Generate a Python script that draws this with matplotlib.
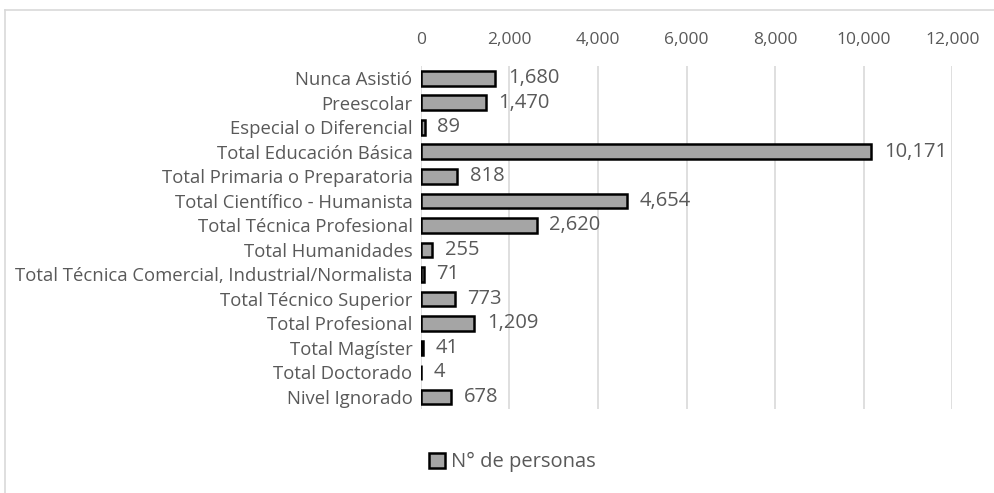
"""Horizontal bar chart: personas por nivel educacional."""

import matplotlib

matplotlib.use("Agg")
import matplotlib.pyplot as plt
from matplotlib.lines import Line2D
from matplotlib.ticker import FuncFormatter

niveles = [
    "Nunca Asistió",
    "Preescolar",
    "Especial o Diferencial",
    "Total Educación Básica",
    "Total Primaria o Preparatoria",
    "Total Científico - Humanista",
    "Total Técnica Profesional",
    "Total Humanidades",
    "Total Técnica Comercial, Industrial/Normalista",
    "Total Técnico Superior",
    "Total Profesional",
    "Total Magíster",
    "Total Doctorado",
    "Nivel Ignorado",
]
personas = [1680, 1470, 89, 10171, 818, 4654, 2620, 255, 71, 773, 1209, 41, 4, 678]
x_ticks = [0, 2000, 4000, 6000, 8000, 10000, 12000]
serie = "N° de personas"

plt.rcParams["font.family"] = ["Open Sans", "DejaVu Sans"]
text_color = "#595959"

fig = plt.figure(figsize=(9.95, 4.93), dpi=100)
ax = fig.add_axes([0.423, 0.170, 0.534, 0.696])

y = list(range(len(niveles)))
ax.barh(y, personas, height=0.6, color="#A5A5A5", edgecolor="black", linewidth=1.8,
        label=serie, zorder=3)
for yi, v in zip(y, personas):
    ax.annotate(f"{v:,}", (v, yi), xytext=(9, 0), textcoords="offset points",
                va="center", ha="left", fontsize=14.5, color=text_color)

ax.set_ylim(len(niveles) - 0.5, -0.5)
ax.set_xlim(0, 12000)
ax.set_yticks(y, niveles)
ax.set_xticks(x_ticks)
ax.xaxis.set_major_formatter(FuncFormatter(lambda v, _: f"{int(v):,}"))
ax.xaxis.tick_top()
ax.tick_params(axis="both", length=0, labelcolor=text_color)
ax.tick_params(axis="x", pad=13, labelsize=12.5)
ax.tick_params(axis="y", pad=6, labelsize=13.3)
ax.grid(True, axis="x", color="#D9D9D9", linewidth=1.2, zorder=0)
for s in ax.spines.values():
    s.set_visible(False)

fig.legend(loc="center", bbox_to_anchor=(0.515, 0.062), frameon=False,
           fontsize=14.5, labelcolor=text_color, handlelength=0.75,
           handleheight=0.75, handletextpad=0.3)

# chart frame (only the left and top edges fall inside the image)
fig.add_artist(Line2D([0.005, 0.005], [0.0, 0.98], color="#D9D9D9", lw=1.2,
                      transform=fig.transFigure))
fig.add_artist(Line2D([0.005, 1.0], [0.98, 0.98], color="#D9D9D9", lw=1.2,
                      transform=fig.transFigure))

fig.savefig("out.png", dpi=100, facecolor="white")
plt.close(fig)
